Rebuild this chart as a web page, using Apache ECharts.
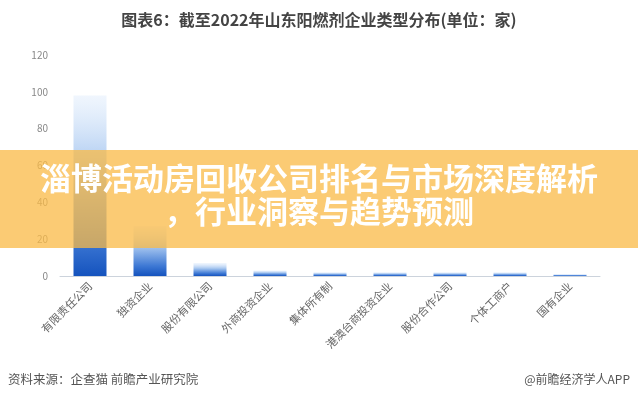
<!DOCTYPE html>
<html><head><meta charset="utf-8">
<script src="https://cdn.jsdelivr.net/npm/echarts@6/dist/echarts.min.js"></script>
<style>html,body{margin:0;padding:0;background:#fff}#c{width:638px;height:400px}</style>
</head><body><div id="c"></div>
<script>
const categories = ['有限责任公司','独资企业','股份有限公司','外商投资企业','集体所有制','港澳台商投资企业','股份合作公司','个体工商户','国有企业'];
const values = [98, 27, 7, 3, 2, 2, 2, 2, 1];
const yTicks = [0, 20, 40, 60, 80, 100, 120];
const titleText = '图表6：截至2022年山东阳燃剂企业类型分布(单位：家)';
const bannerLines = ['淄博活动房回收公司排名与市场深度解析', '，行业洞察与趋势预测'];
const sourceText = '资料来源：企查猫 前瞻产业研究院';
const brandText = '@前瞻经济学人APP';

const font = '"Noto Sans CJK SC", "Noto Sans", sans-serif';
const chart = echarts.init(document.getElementById('c'));
chart.setOption({
  backgroundColor: '#fff',
  animation: false,
  title: {
    text: titleText, left: 'center', top: 7,
    textStyle: { fontFamily: font, fontSize: 16, fontWeight: 'bold', color: '#444' }
  },
  grid: { left: 60, right: 38, top: 55, bottom: 124 },
  xAxis: {
    type: 'category', data: categories,
    axisLine: { lineStyle: { color: '#ccd3dc' } },
    axisTick: { show: false },
    axisLabel: { rotate: 45, interval: 0, color: '#666', fontSize: 11, fontFamily: font, margin: 8 }
  },
  yAxis: {
    type: 'value', min: yTicks[0], max: yTicks[yTicks.length - 1], interval: 20,
    axisLine: { show: false }, axisTick: { show: false },
    splitLine: { show: false },
    axisLabel: { color: '#888', fontSize: 10, fontFamily: font, margin: 12 }
  },
  series: [{
    type: 'bar', data: values, barWidth: 33,
    itemStyle: {
      color: new echarts.graphic.LinearGradient(0, 0, 0, 1, [
        { offset: 0, color: 'rgba(225,237,252,0.5)' },
        { offset: 0.4, color: '#a9c8f0' },
        { offset: 0.8, color: '#3d78d4' },
        { offset: 1, color: '#1553be' }
      ])
    }
  }],
  graphic: [
    { type: 'rect', z: 100, shape: { x: 0, y: 150, width: 638, height: 98 },
      style: { fill: 'rgba(250,185,70,0.75)' } },
    { type: 'text', z: 101, left: 'center', top: 163,
      style: { text: bannerLines[0], fill: '#fff', font: 'bold 31px ' + font } },
    { type: 'text', z: 101, left: 'center', top: 196,
      style: { text: bannerLines[1], fill: '#fff', font: 'bold 31px ' + font } },
    { type: 'text', left: 8, top: 373,
      style: { text: sourceText, fill: '#555', font: '12.5px ' + font } },
    { type: 'text', right: 8, top: 373,
      style: { text: brandText, fill: '#555', font: '12px ' + font } }
  ]
});
</script></body></html>
